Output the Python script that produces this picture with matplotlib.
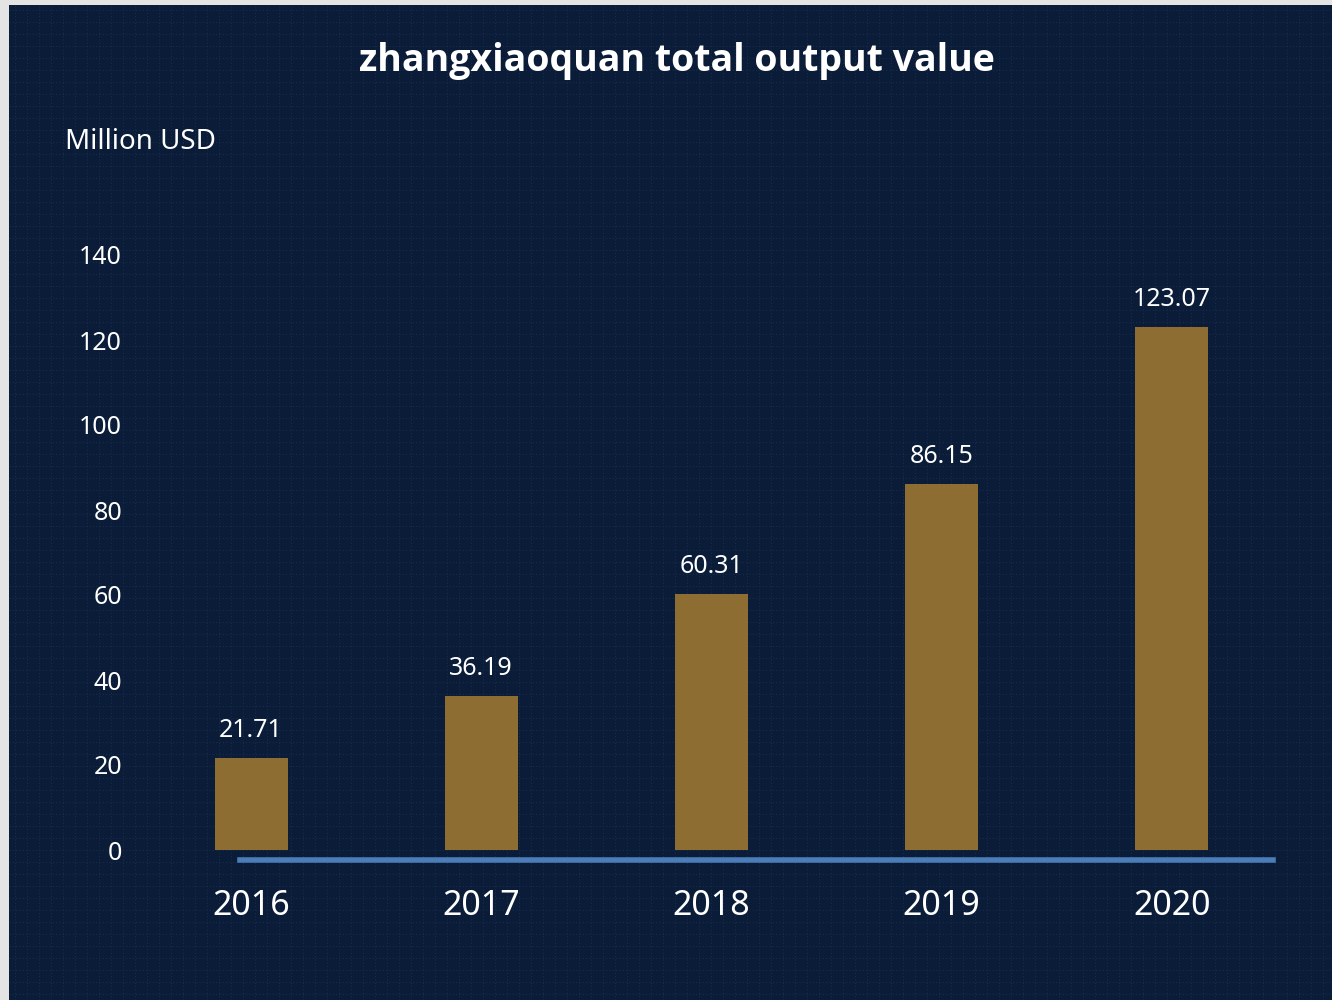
import numpy as np
import matplotlib.pyplot as plt

years = ["2016", "2017", "2018", "2019", "2020"]
values = [21.71, 36.19, 60.31, 86.15, 123.07]
y_ticks = [0, 20, 40, 60, 80, 100, 120, 140]

plt.rcParams["font.family"] = ["Noto Sans", "DejaVu Sans"]

W, H = 1332, 1000
fig = plt.figure(figsize=(W / 100, H / 100), dpi=100)
fig.patch.set_facecolor("#e4e4e4")

# dark panel with faint dotted grid texture
bg = fig.add_axes([9 / W, 0, 1 - 9 / W, 1 - 5 / H])
bg.set_facecolor("#0a1c37")
bg.set_xlim(0, W - 9)
bg.set_ylim(0, H - 5)
for x in np.arange(6, W, 12):
    bg.axvline(x, color="#182d4c", lw=0.8, ls=(0, (1, 2)))
for y in np.arange(6, H, 12):
    bg.axhline(y, color="#182d4c", lw=0.8, ls=(0, (1, 2)))
bg.set_xticks([])
bg.set_yticks([])
for s in bg.spines.values():
    s.set_visible(False)

ax = fig.add_axes([136 / W, 1 - 871.25 / H, 1151 / W, (871.25 - 255) / H])
ax.patch.set_alpha(0)

# baseline bar under the columns (set before tick styling, it resets ticks)
for name in ["top", "right", "left"]:
    ax.spines[name].set_visible(False)
ax.spines["bottom"].set_position(("data", -2.35))
ax.spines["bottom"].set_bounds(-0.048, 4.44)
ax.spines["bottom"].set_color("#4b7db8")
ax.spines["bottom"].set_linewidth(4)

x = np.arange(len(years))
ax.bar(x, values, width=0.317, color="#8d6d31", zorder=3)
for xi, v in zip(x, values):
    ax.text(xi, v + 3.5, f"{v:.2f}", ha="center", va="bottom",
            color="white", fontsize=18)

ax.set_xlim(-0.5, 4.5)
ax.set_ylim(-5, 140)
ax.set_yticks(y_ticks)
ax.set_yticklabels([str(t) for t in y_ticks])
ax.set_xticks(x)
ax.set_xticklabels(years)
ax.tick_params(axis="y", length=0, pad=10, labelcolor="white", labelsize=18)
ax.tick_params(axis="x", length=0, pad=21, labelcolor="white", labelsize=24.5)

fig.text(0.508, 1 - 61 / H, "zhangxiaoquan total output value", ha="center",
         va="center", color="white", fontsize=27, fontweight="bold",
         family=["Open Sans", "DejaVu Sans"])
fig.text(65 / W, 1 - 142 / H, "Million USD", ha="left", va="center",
         color="white", fontsize=20)

fig.savefig("out.png", dpi=100, facecolor=fig.get_facecolor())
